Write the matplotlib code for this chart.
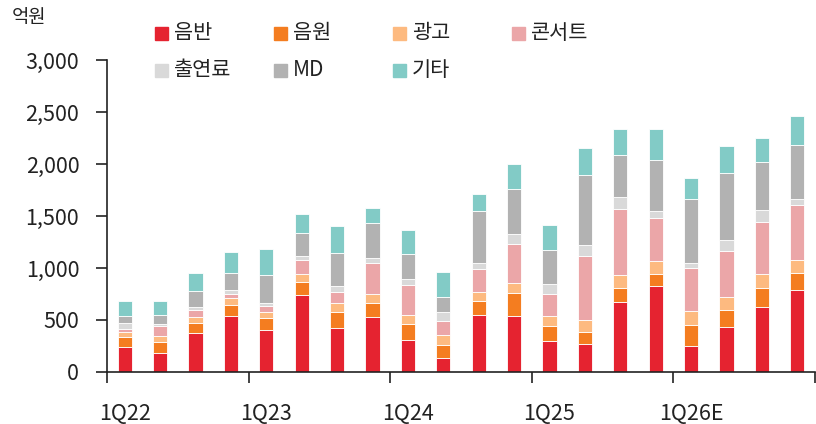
import numpy as np
import matplotlib
matplotlib.use("Agg")
import matplotlib.pyplot as plt
from matplotlib.patches import Rectangle

plt.rcParams['font.family'] = ['Noto Sans CJK KR', 'DejaVu Sans']

quarters = ["1Q22", "2Q22", "3Q22", "4Q22", "1Q23", "2Q23", "3Q23", "4Q23",
            "1Q24", "2Q24", "3Q24", "4Q24", "1Q25", "2Q25", "3Q25", "4Q25",
            "1Q26E", "2Q26E", "3Q26E", "4Q26E"]

# 억원
album   = [243, 186, 372, 535, 407, 743, 426, 532, 311, 138, 548, 538, 298, 272, 675, 830, 253, 436, 622, 785]
digital = [97, 106, 99, 112, 115, 125, 151, 135, 154, 125, 138, 225, 147, 116, 130, 115, 196, 163, 186, 170]
ads     = [48, 54, 58, 61, 55, 74, 83, 80, 83, 93, 83, 90, 93, 112, 132, 122, 138, 122, 134, 122]
concert = [29, 99, 67, 42, 61, 138, 112, 301, 292, 138, 218, 378, 215, 618, 631, 417, 410, 442, 503, 529]
appear  = [51, 13, 29, 38, 25, 35, 55, 48, 51, 83, 61, 93, 93, 100, 116, 61, 54, 106, 116, 57]
md      = [73, 87, 154, 164, 273, 218, 320, 333, 241, 147, 500, 439, 327, 673, 400, 490, 609, 648, 455, 517]
etc     = [142, 138, 176, 202, 250, 186, 254, 148, 236, 238, 164, 234, 237, 263, 253, 301, 205, 253, 231, 282]

series = [("음반", album, "#E52330"),
          ("음원", digital, "#F47D20"),
          ("광고", ads, "#FDBA80"),
          ("콘서트", concert, "#EBA6A8"),
          ("출연료", appear, "#D9D9D9"),
          ("MD", md, "#B2B2B2"),
          ("기타", etc, "#82CBC6")]

W, H = 816, 424
fig = plt.figure(figsize=(W / 100, H / 100), dpi=100)
ax = fig.add_axes([107 / W, (H - 372) / H, 708 / W, 312 / H])

x = np.arange(len(quarters))
bottom = np.zeros(len(quarters))
for name, vals, col in series:
    ax.bar(x, vals, width=0.4, bottom=bottom, color=col, edgecolor="white", linewidth=0.6)
    bottom += np.array(vals)

ax.set_xlim(-0.5, len(quarters) - 0.5)
ax.set_ylim(0, 3000)
ax.set_yticks(np.arange(0, 3001, 500))
ax.set_yticklabels([f"{v:,}" for v in range(0, 3001, 500)])

# ticks at year boundaries, labels under first quarter of each year
ax.set_xticks(np.arange(-0.5, len(quarters), 4))
ax.set_xticklabels([])
ax.set_xticks(x[::4], minor=True)
ax.set_xticklabels(quarters[::4], minor=True)
ax.tick_params(axis="x", which="major", direction="out", length=8, width=1.2, color="#222222")
ax.tick_params(axis="x", which="minor", length=0, pad=22, labelsize=15.5, labelcolor="#222222")
ax.tick_params(axis="y", direction="out", length=8, width=1.2, pad=12, labelsize=15.5,
               color="#222222", labelcolor="#222222")

for s in ["top", "right"]:
    ax.spines[s].set_visible(False)
for s in ["left", "bottom"]:
    ax.spines[s].set_linewidth(1.2)
    ax.spines[s].set_color("#222222")

fig.text(12 / W, 1 - 17 / H, "억원", fontsize=13.5, va="center", ha="left", color="#222222")

# legend, 2 rows x 4 columns
leg_x = [155, 274, 393, 512]
leg_y = [33, 70]
for i, (name, vals, col) in enumerate(series):
    r, c = divmod(i, 4)
    px, py = leg_x[c], leg_y[r]
    fig.patches.append(Rectangle((px / W, 1 - (py + 7) / H), 13 / W, 13 / H,
                                 transform=fig.transFigure, color=col))
    fig.text((px + 19) / W, 1 - py / H, name, fontsize=15, va="center", ha="left", color="#222222")

fig.savefig("out.png", dpi=100)
